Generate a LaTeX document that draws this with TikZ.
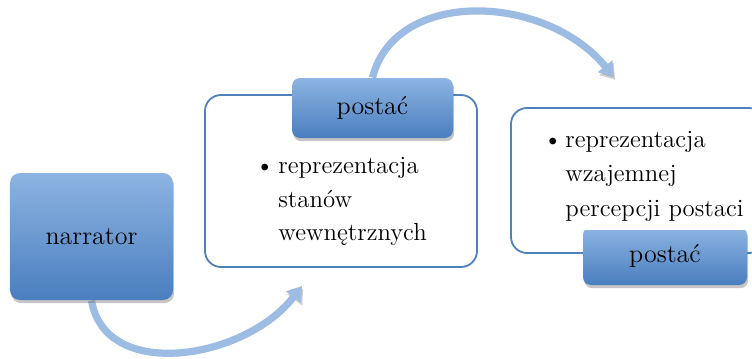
\documentclass[tikz,border=0pt]{standalone}
\usepackage{tikz}
\usetikzlibrary{arrows.meta,shadows,backgrounds}
\definecolor{boxtop}{HTML}{8DB4E2}
\definecolor{boxbot}{HTML}{4A7EBF}
\definecolor{framecol}{HTML}{4F81BD}
\definecolor{arrowcol}{HTML}{9DBCE4}

\begin{document}
\begin{tikzpicture}[x=0.5pt,y=-0.5pt,
  headbox/.style={rounded corners=4pt, top color=boxtop, bottom color=boxbot, inner sep=0pt,
    drop shadow={opacity=0.45, shadow xshift=0.6pt, shadow yshift=-1.6pt},
    font=\fontsize{13}{15}\selectfont},
  framebox/.style={draw=framecol, line width=0.9pt, rounded corners=8pt, fill=white, inner sep=0pt},
  textbox/.style={fill=white, inner sep=0pt},
  itemline/.style={anchor=base west, inner sep=0pt, font=\fontsize{12.4}{15}\selectfont},
  band/.style={draw=arrowcol, line width=3.6pt, -{Triangle[width=9pt,length=7pt]},
    preaction={draw=black!70!brown, opacity=0.22, transform canvas={shift={(0.6pt,-1.4pt)}}}}]
\useasboundingbox (0,0) rectangle (752,359);
\coordinate (tipa) at (302,286);
\coordinate (tipb) at (614,77);

\node[framebox, minimum width=136pt, minimum height=86pt] (fa) at (341,181) {};
\node[headbox, minimum width=80.5pt, minimum height=30pt] (pa) at (372.5,108) {postać};
\node[textbox, minimum width=115pt, minimum height=51pt] (ta) at (340,204) {};
\node[itemline] (ba) at (255,173) {\textbullet};
\node[itemline] (la1) at (278,173) {reprezentacja};
\node[itemline] (la2) at (278,207) {stanów};
\node[itemline] (la3) at (278,240) {wewnętrznych};

\node[framebox, minimum width=127pt, minimum height=72.5pt] (fb) at (638,180.5) {};
\node[headbox, minimum width=82pt, minimum height=29pt] (pb) at (665,256) {postać};
\node[textbox, minimum width=115pt, minimum height=51pt] (tb) at (630,179) {};
\node[itemline] (bb) at (543,147) {\textbullet};
\node[itemline] (lb1) at (565,147) {reprezentacja};
\node[itemline] (lb2) at (565,181) {wzajemnej};
\node[itemline] (lb3) at (565,216) {percepcji postaci};

\node[headbox, rounded corners=5pt, minimum width=81.5pt, minimum height=63.5pt] (narrator) at (91.5,236.5) {narrator};

\begin{scope}[on background layer]
\draw[band] (narrator.south) .. controls (105,382) and (245,360) .. (tipa);
\draw[band] (pa.north) .. controls (395,-12) and (545,-7) .. (tipb);
\end{scope}
\end{tikzpicture}
\end{document}
